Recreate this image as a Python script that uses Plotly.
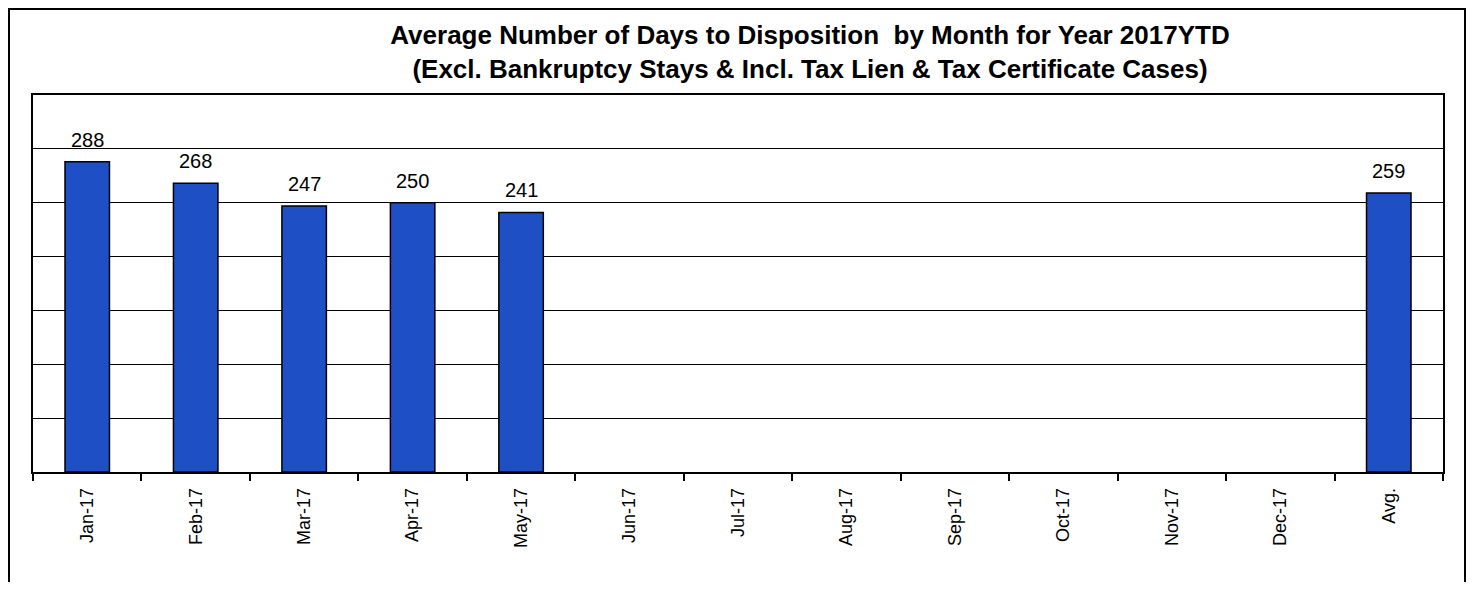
import plotly.graph_objects as go

categories = ["Jan-17", "Feb-17", "Mar-17", "Apr-17", "May-17", "Jun-17", "Jul-17",
              "Aug-17", "Sep-17", "Oct-17", "Nov-17", "Dec-17", "Avg."]
values = [288, 268, 247, 250, 241, None, None, None, None, None, None, None, 259]
title_lines = ["Average Number of Days to Disposition  by Month for Year 2017YTD",
               "(Excl. Bankruptcy Stays & Incl. Tax Lien & Tax Certificate Cases)"]

OFF = 8  # page body margin
W, H = 1474 - 2 * OFF, 590 - 2 * OFF
L, T = 33 - OFF, 95 - OFF
R = W - (1443 - OFF)
B = H - (472 - OFF)
pw, ph = W - L - R, H - T - B

fig = go.Figure()
fig.add_trace(go.Bar(
    x=categories, y=values,
    marker=dict(color="#1E4FC4", line=dict(color="black", width=1.5)),
    width=0.41,
    hoverinfo="x+y",
))

annotations = []
for c, v in zip(categories, values):
    if v is not None:
        annotations.append(dict(x=c, y=v, xref="x", yref="y", text=str(v),
                                showarrow=False, yanchor="bottom", yshift=9,
                                font=dict(family="Liberation Sans, Arial", size=20, color="black")))

def px_x(p):
    return (p - OFF - L) / pw

def px_y(p):
    return (H - B - (p - OFF)) / ph

fig.update_layout(
    width=W, height=H,
    margin=dict(l=L, r=R, t=T, b=B),
    paper_bgcolor="white", plot_bgcolor="white",
    showlegend=False,
    title=dict(text="<b>" + "<br>".join(title_lines) + "</b>",
               xref="paper", x=px_x(810), xanchor="center",
               yref="container", y=1 - (44 - OFF) / H, yanchor="middle",
               font=dict(family="Liberation Sans, Arial", size=26, color="black")),
    annotations=annotations,
    xaxis=dict(type="category", categoryorder="array", categoryarray=categories,
               tickson="boundaries", ticks="outside", ticklen=7, tickwidth=1.5,
               tickcolor="black", showgrid=False, showline=True, mirror=True,
               linecolor="black", linewidth=1.5, tickangle=-90, ticklabelstandoff=7,
               tickfont=dict(family="Liberation Sans, Arial", size=18, color="black"),
               range=[-0.5, len(categories) - 0.5], fixedrange=True),
    yaxis=dict(range=[0, 350], dtick=50, showgrid=True, gridcolor="black", gridwidth=1.3,
               showticklabels=False, ticks="", showline=True, mirror=True,
               linecolor="black", linewidth=1.5, zeroline=False, fixedrange=True),
    shapes=[dict(type="rect", xref="paper", yref="paper",
                 x0=px_x(OFF + 1), x1=px_x(1466 - 1),
                 y0=px_y(620), y1=px_y(OFF + 1),
                 line=dict(color="black", width=2), fillcolor="rgba(0,0,0,0)", layer="below")],
)

fig.write_html("out.html", config={"displayModeBar": False})
